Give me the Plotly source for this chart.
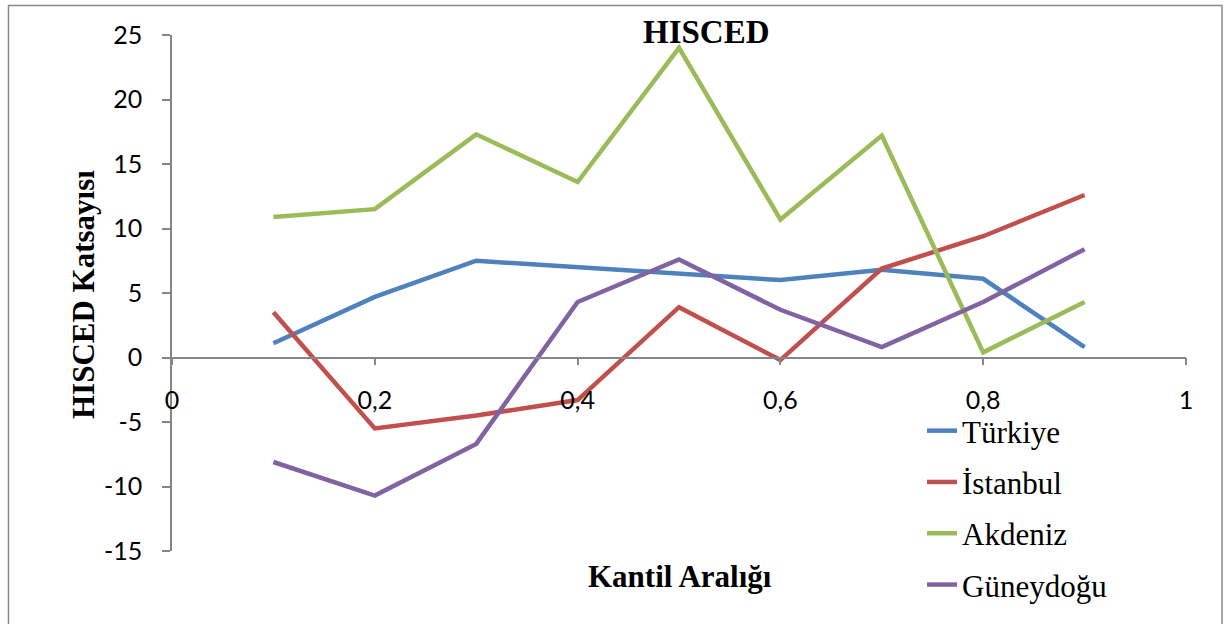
import plotly.graph_objects as go

x_vals = [0.1, 0.2, 0.3, 0.4, 0.5, 0.6, 0.7, 0.8, 0.9]
turkiye = [1.1, 4.7, 7.5, 7.0, 6.5, 6.0, 6.8, 6.1, 0.8]
istanbul = [3.5, -5.5, -4.5, -3.3, 3.9, -0.2, 6.9, 9.4, 12.6]
akdeniz = [10.9, 11.5, 17.3, 13.6, 24.0, 10.7, 17.2, 0.4, 4.3]
guneydogu = [-8.1, -10.7, -6.7, 4.3, 7.6, 3.7, 0.8, 4.3, 8.4]
series_names = ["Türkiye", "İstanbul", "Akdeniz", "Güneydoğu"]
colors = ["#4F81BD", "#C0504D", "#9BBB59", "#8064A2"]
x_ticks = [0, 0.2, 0.4, 0.6, 0.8, 1]
x_tick_labels = ["0", "0,2", "0,4", "0,6", "0,8", "1"]
y_ticks = [-15, -10, -5, 0, 5, 10, 15, 20, 25]
y_tick_labels = ["-15", "-10", "-5", "0", "5", "10", "15", "20", "25"]

fig = go.Figure()
for i, (name, vals) in enumerate(zip(series_names, [turkiye, istanbul, akdeniz, guneydogu])):
    fig.add_trace(go.Scatter(x=x_vals, y=vals, mode="lines", name=name,
                             legendgroup=name,
                             line=dict(color=colors[i], width=4.5)))

axis_gray = "#868686"
W, H = 1228, 624
# screen coordinates of plot area
SL, SR, ST, SB = 172, 1186, 35, 551
L, T, R, B = SL, ST, W - SR, H - SB
pw, ph = SR - SL, SB - ST


def px_x(p):
    return (p - SL) / pw


def px_y(p):
    return (SB - p) / ph


fig.update_layout(
    width=W, height=H,
    margin=dict(l=L, r=R, t=T, b=B, autoexpand=False),
    paper_bgcolor="white", plot_bgcolor="white",
    showlegend=True,
    legend=dict(xref="container", yref="container",
                x=922 / W, y=1 - 404 / H, xanchor="left", yanchor="top",
                font=dict(family="Liberation Serif", size=31, color="black"),
                bgcolor="rgba(0,0,0,0)", tracegroupgap=8),
    xaxis=dict(range=[0, 1], tickvals=x_ticks, ticktext=x_tick_labels,
               showgrid=False, zeroline=False, showline=True, linecolor=axis_gray, linewidth=1.5,
               ticks="outside", ticklen=7, tickcolor=axis_gray, tickwidth=1.5,
               anchor="free", position=15 / 40, ticklabelstandoff=14,
               tickfont=dict(family="Lato", size=25, color="black")),
    yaxis=dict(range=[-15, 25], tickvals=y_ticks, ticktext=y_tick_labels,
               showgrid=False, zeroline=False, showline=True, linecolor=axis_gray, linewidth=1.5,
               ticks="outside", ticklen=8, tickcolor=axis_gray, tickwidth=1.5,
               ticklabelstandoff=15,
               tickfont=dict(family="Lato", size=25, color="black")),
    annotations=[
        dict(text="<b>HISCED</b>", x=px_x(706), y=px_y(32), xref="paper", yref="paper",
             showarrow=False, xanchor="center", yanchor="middle",
             font=dict(family="Liberation Serif", size=33, color="black")),
        dict(text="<b>Kantil Aralığı</b>", x=px_x(680), y=px_y(576), xref="paper", yref="paper",
             showarrow=False, xanchor="center", yanchor="middle",
             font=dict(family="Liberation Serif", size=31, color="black")),
        dict(text="<b>HISCED Katsayısı</b>", x=px_x(83), y=px_y(295), xref="paper", yref="paper",
             showarrow=False, xanchor="center", yanchor="middle", textangle=-90,
             font=dict(family="Liberation Serif", size=31, color="black")),
    ],
    shapes=[dict(type="rect", xref="paper", yref="paper",
                 x0=px_x(8.5), x1=px_x(1222), y0=px_y(640), y1=px_y(5.5),
                 line=dict(color="#898989", width=1.5), fillcolor="rgba(0,0,0,0)", layer="below")],
)

fig.write_html("out.html", config={"displayModeBar": False},
               post_script="document.body.style.margin='0';")
